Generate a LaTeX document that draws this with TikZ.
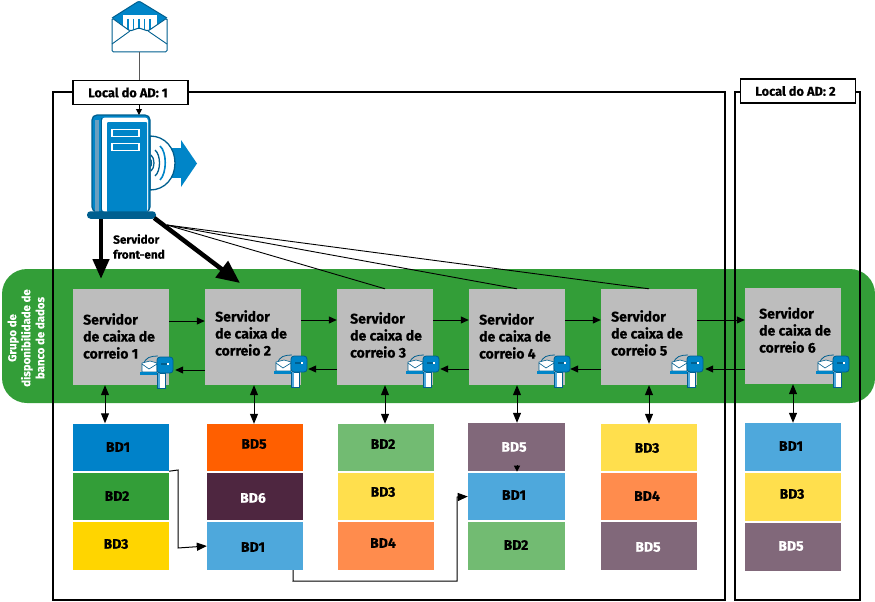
\documentclass[tikz,border=0pt]{standalone}
\usepackage{fontspec}
\setmainfont{Fira Sans}[BoldFeatures={FakeBold=0.4}]
\usetikzlibrary{arrows.meta}
\definecolor{grn}{HTML}{339E38}
\definecolor{gry}{HTML}{BDBDBD}
\definecolor{blu}{HTML}{0085C8}
\definecolor{dblu}{HTML}{005F8F}
\definecolor{mblu}{HTML}{6A9FC0}
\definecolor{dbA}{HTML}{0082C9}
\definecolor{dbB}{HTML}{339E38}
\definecolor{dbC}{HTML}{FFD500}
\definecolor{orng}{HTML}{FF5F00}
\definecolor{plum}{HTML}{4E2640}
\definecolor{lblu}{HTML}{4EA8DC}
\definecolor{lgrn}{HTML}{72BB72}
\definecolor{lyel}{HTML}{FFDF4D}
\definecolor{lorg}{HTML}{FF8C4D}
\definecolor{mauv}{HTML}{81687A}
\tikzset{
  x=1pt,y=-1pt,
  srv/.style={fill=gry,draw=none,minimum width=96pt,minimum height=96pt,inner sep=0pt},
  srvtxt/.style={anchor=west,align=left,inner sep=0pt,font=\bfseries\fontsize{14}{17}\selectfont},
  db/.style={draw=none,minimum width=96pt,minimum height=47pt,inner sep=0pt},
  dbtxt/.style={inner sep=0pt,font=\bfseries\fontsize{14}{14}\selectfont},
  frameline/.style={draw=black,line width=2.5pt},
  adlabel/.style={draw=black,fill=white,line width=1.1pt,minimum height=24pt,inner sep=0pt,font=\bfseries\fontsize{12.8}{12}\selectfont},
  link/.style={draw=black,line width=1pt,-{Triangle[length=8pt,width=7pt]}},
  twoway/.style={draw=black,line width=1pt,{Triangle[length=10pt,width=8pt]}-{Triangle[length=10pt,width=8pt]}},
  repl/.style={draw=black,line width=1pt,-{Triangle[length=10pt,width=8pt]}},
  thick fan/.style={draw=black,line width=0.9pt},
  mailbox/.pic={
    \draw[dblu,line width=.8pt] (4,9) .. controls (4,1) and (12,0) .. (18,0);
    \draw[dblu,line width=.6pt,fill=white] (2,7) -- (10,5) -- (17,7) -- (17,16) -- (2,16) -- cycle;
    \draw[dblu,line width=.6pt] (2,8) -- (9,13) -- (17,8);
    \fill[blu] (0,16) rectangle (17,19);
    \draw[dblu,line width=.6pt,fill=white] (17,17) rectangle (25,32);
    \fill[lblu] (17.5,17) rectangle (19.5,32);
    \draw[dblu,line width=.8pt,fill=blu,rounded corners=3pt] (17,1) -- (33,1) -- (33,17) -- (17,17) -- cycle;
    \fill[dblu] (21,7) rectangle (29,9);
    \fill[white] (27,6.5) rectangle (29,9);
  }
}
\begin{document}
\begin{tikzpicture}
\useasboundingbox (0,0) rectangle (875,602);
% band
\fill[grn,rounded corners=25pt] (2,269) rectangle (875,403);
\node[text=white,rotate=90,align=center,inner sep=0pt,font=\bfseries\fontsize{11.4}{14}\selectfont] (grp) at (26,338) {Grupo de\\disponibilidade de\\banco de dados};
% AD frames
\draw[frameline] (53,92) rectangle (725,600);
\draw[frameline] (735,92) rectangle (860,600);
\node[adlabel,minimum width=115pt] (ad1) at (130.5,92.5) {\hspace*{-5pt}Local do AD: 1};
\node[adlabel,minimum width=115pt] (ad2) at (798,91) {\hspace*{-5pt}Local do AD: 2};
% envelope
\fill[blu] (112,18) -- (139,1) -- (167,18) -- (139,36) -- cycle;
\fill[white] (123,15) rectangle (157,34);
\foreach \sx in {128,133.5,139,144.5,150}{\draw[blu,line width=1.2pt] (\sx,19) -- (\sx,33);}
\draw[dblu,line width=1pt,fill=white,rounded corners=1.5pt] (112,18) -- (130,31) -- (139,28) -- (148,31) -- (167,18) -- (167,52) -- (112,52) -- cycle;
\draw[dblu,line width=.9pt] (112,44) -- (130,31) (148,31) -- (167,44);
\draw[dblu,line width=1pt,rounded corners=1.5pt] (112,18) -- (139,1) -- (167,18);
\coordinate (envb) at (139,52);
\draw[draw=black!65,line width=.9pt] (envb) -- (139,80);
% front-end server
\fill[blu] (171,148) rectangle (182,178);
\fill[blu] (181,140) -- (197,163.5) -- (181,187) -- cycle;
\draw[dblu,line width=1.3pt,fill=white] (150,136) .. controls (165,136) and (175,148) .. (175,163) .. controls (175,178) and (165,190) .. (150,190) -- cycle;
\draw[blu,line width=1.6pt] (160,146) .. controls (167,152) and (167,173) .. (160,180);
\draw[dblu,line width=1.3pt] (155,150) .. controls (161,155) and (161,171) .. (155,176);
\draw[dblu,line width=1.3pt] (151,155) .. controls (155,158) and (155,168) .. (151,171);
\draw[dblu,line width=1.3pt] (150,159) .. controls (152,160) and (152,166) .. (150,167);
\draw[dblu,line width=1.3pt,fill=blu,rounded corners=5pt] (92,212) -- (92,115) -- (150,115) -- (150,212) -- cycle;
\fill[mblu] (95,120) rectangle (99,212);
\fill[white,rounded corners=3pt] (102,117.5) rectangle (148,212);
\draw[dblu,line width=.9pt] (101.5,118) -- (101.5,212);
\fill[blu,rounded corners=1pt] (107,122) rectangle (147,212);
\draw[white,line width=1.2pt] (112,129.5) rectangle (139,136.5);
\draw[white,line width=1.2pt] (112,143.5) rectangle (139,150.5);
\node[fill=dblu,draw=none,rounded corners=3.5pt,minimum width=69pt,minimum height=7.5pt,inner sep=0pt] (fe) at (121.5,215) {};
\node[anchor=west,align=left,inner sep=0pt,font=\bfseries\fontsize{11.8}{15}\selectfont] (felabel) at (113,246.5) {Servidor\\front-end};
\draw[draw=black,line width=1pt,-{Triangle[length=6pt,width=6pt]}] (ad1.south -| 139,0) -- (139,115);
% servers
\node[srv] (s1) at (121,337) {};
\node[srv] (s2) at (253,337) {};
\node[srv] (s3) at (385,337) {};
\node[srv] (s4) at (517,337) {};
\node[srv] (s5) at (649,337) {};
\node[srv] (s6) at (793,336) {};
\node[srvtxt] (t1) at (83,336) {Servidor\\de caixa de\\correio 1};
\node[srvtxt] (t2) at (215,333) {Servidor\\de caixa de\\correio 2};
\node[srvtxt] (t3) at (350,335) {Servidor\\de caixa de\\correio 3};
\node[srvtxt] (t4) at (479,336) {Servidor\\de caixa de\\correio 4};
\node[srvtxt] (t5) at (611,333) {Servidor\\de caixa de\\correio 5};
\node[srvtxt] (t6) at (759,330) {Servidor\\de caixa de\\correio 6};
% fan from front-end
\coordinate (fan) at (167,225);
\draw[thick fan] (fan) -- (s3.north);
\draw[thick fan] (fan) -- (s4.north);
\draw[thick fan] (fan) -- (s5.north);
\draw[black,line width=4.5pt,-{Triangle[length=20pt,width=16pt]}] (101,219) -- (101,279);
\draw[black,line width=4.5pt,-{Triangle[length=23pt,width=20pt]}] (fe.south east) ++(-2,-1) -- (240,283);
% mailboxes
\pic at (140,356) {mailbox};
\pic at (274,355) {mailbox};
\pic at (406,355) {mailbox};
\pic at (537,355) {mailbox};
\pic at (670,355) {mailbox};
\pic at (816,355) {mailbox};
% forward links
\draw[link] ([yshift=16pt]s1.east) -- ([yshift=16pt]s2.west);
\draw[link] ([yshift=17pt]s2.east) -- ([yshift=17pt]s3.west);
\draw[link] ([yshift=17pt]s3.east) -- ([yshift=17pt]s4.west);
\draw[link] ([yshift=17pt]s4.east) -- ([yshift=17pt]s5.west);
\draw[link] ([yshift=17pt]s5.east) -- ([yshift=16pt]s6.west);
% back links
\draw[link] ([yshift=-33pt]s2.west) -- ([yshift=-33pt,xshift=6pt]s1.east);
\draw[link] ([yshift=-32pt]s3.west) -- ([yshift=-32pt,xshift=7pt]s2.east);
\draw[link] ([yshift=-32pt]s4.west) -- ([yshift=-32pt,xshift=7pt]s3.east);
\draw[link] ([yshift=-32pt]s5.west) -- ([yshift=-32pt,xshift=5pt]s4.east);
\draw[link] ([yshift=-33pt]s6.west) -- ([yshift=-32pt,xshift=8pt]s5.east);
% databases
\node[db,fill=dbA] (a1) at (121,447) {};
\node[db,fill=dbB] (a2) at (121,496) {};
\node[db,fill=dbC,minimum height=48pt] (a3) at (121,546) {};
\node[db,fill=orng] (b1) at (255,447.5) {};
\node[db,fill=plum] (b2) at (255,496.5) {};
\node[db,fill=lblu,minimum height=48pt] (b3) at (255,546) {};
\node[db,fill=lgrn] (c1) at (386,447.5) {};
\node[db,fill=lyel] (c2) at (386,496.5) {};
\node[db,fill=lorg,minimum height=48pt] (c3) at (386,546) {};
\node[db,fill=mauv,minimum width=97pt,minimum height=48pt] (d1) at (516.5,447) {};
\node[db,fill=lblu,minimum width=97pt] (d2) at (516.5,496.5) {};
\node[db,fill=lgrn,minimum width=97pt,minimum height=48pt] (d3) at (516.5,546) {};
\node[db,fill=lyel] (e1) at (649,447.5) {};
\node[db,fill=lorg] (e2) at (649,496.5) {};
\node[db,fill=mauv,minimum height=48pt] (e3) at (649,546) {};
\node[db,fill=lblu,minimum height=48pt] (f1) at (793,447) {};
\node[db,fill=lyel,minimum height=48pt] (f2) at (793,497) {};
\node[db,fill=mauv,minimum height=48pt] (f3) at (793,547) {};
\node[dbtxt] (ta1) at (118,447) {BD1};
\node[dbtxt] (ta2) at (117,496) {BD2};
\node[dbtxt] (ta3) at (116,544) {BD3};
\node[dbtxt] (tb1) at (254,444) {BD5};
\node[dbtxt,text=white] (tb2) at (253,498) {BD6};
\node[dbtxt] (tb3) at (253,547) {BD1};
\node[dbtxt] (tc1) at (383,444) {BD2};
\node[dbtxt] (tc2) at (383,492) {BD3};
\node[dbtxt] (tc3) at (383,543) {BD4};
\node[dbtxt,text=white] (td1) at (514,447) {BD5};
\node[dbtxt] (td2) at (514,495) {BD1};
\node[dbtxt] (td3) at (516,545) {BD2};
\node[dbtxt] (te1) at (647,448) {BD3};
\node[dbtxt] (te2) at (647,496) {BD4};
\node[dbtxt,text=white] (te3) at (648,547) {BD5};
\node[dbtxt] (tf1) at (791,446) {BD1};
\node[dbtxt] (tf2) at (792,494) {BD3};
\node[dbtxt,text=white] (tf3) at (791,546) {BD5};
% server to db
\draw[twoway] ([xshift=-16pt]s1.south) -- ([xshift=-16pt]a1.north);
\draw[twoway] ([xshift=1pt]s2.south) -- ([xshift=-1pt]b1.north);
\draw[twoway] (s3.south) -- ([xshift=-1pt]c1.north);
\draw[twoway] (s4.south) -- ([xshift=.5pt]d1.north);
\draw[twoway] (s5.south) -- (e1.north);
\draw[twoway] (s6.south) -- (f1.north);
\draw[black,line width=1pt,-{Triangle[length=6pt,width=6pt]}] ([xshift=.5pt,yshift=6pt]d1.south) -- ([xshift=.5pt,yshift=-.5pt]d1.south);
% replication
\draw[repl] ([yshift=-.5pt]a1.south east) -- (178,470) -- (178,548) -- (b3.west);
\draw[repl] ([xshift=-10pt]b3.south east) -- (293,581) -- (457,581) -- (457,497) -- (d2.west);
\end{tikzpicture}
\end{document}
